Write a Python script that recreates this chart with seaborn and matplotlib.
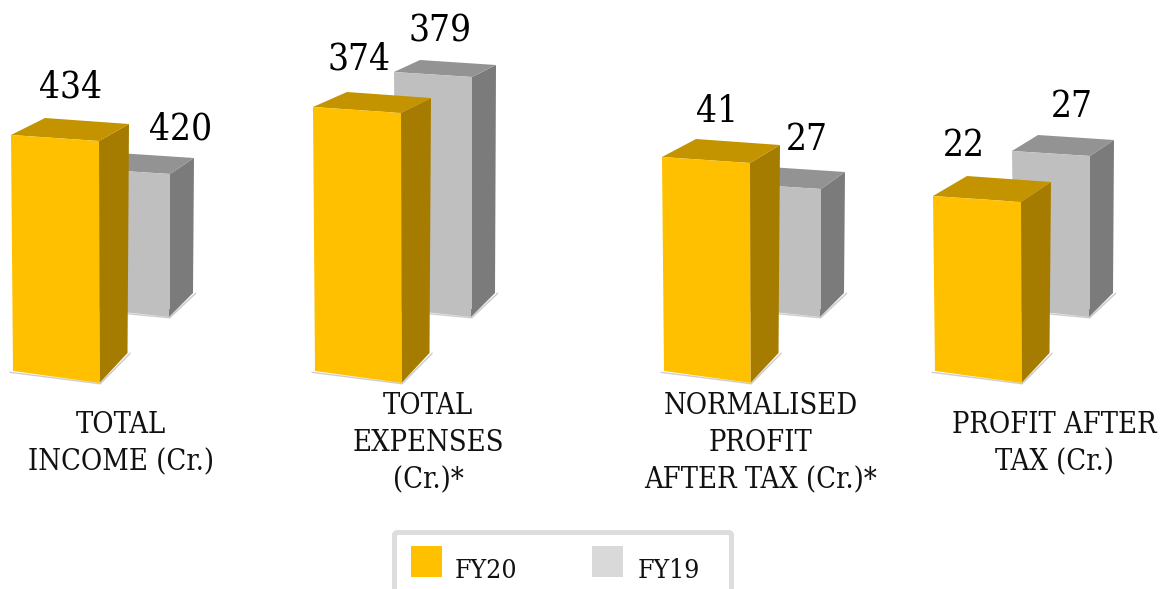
import matplotlib
matplotlib.use("Agg")
import matplotlib.pyplot as plt
from matplotlib.patches import Polygon, FancyBboxPatch, Rectangle
from matplotlib.transforms import Affine2D
import pandas as pd
import seaborn as sns

# ---- data ----
categories = ["TOTAL\nINCOME (Cr.)", "TOTAL\nEXPENSES\n(Cr.)*",
              "NORMALISED\nPROFIT\nAFTER TAX (Cr.)*", "PROFIT AFTER\nTAX (Cr.)"]
fy20 = [434, 374, 41, 22]
fy19 = [420, 379, 27, 27]
series_names = ["FY20", "FY19"]

# ---- layout (pixels, y measured from the top) ----
W, H = 1163, 589
fy20_left = [11, 313, 662, 933]
fy20_top = [135, 107, 157, 196]
fy20_rise = [17, 15, 18, 20]
fy19_left = [92, 394, 743, 1012]
fy19_top = [169, 72, 184, 151]
fy19_rise = [16, 12, 17, 16]
fy20_label = [(71, 84), (359, 56), (717, 108), (964, 142)]
fy19_label = [(181, 126), (440, 28), (807, 136), (1072, 103)]
cat_label_x = [121, 428, 761, 1054]
cat_label_y = [443.5, 443, 443, 443.5]

sns.set_theme(style="white")
plt.rcParams["font.family"] = ["DejaVu Serif", "Liberation Serif"]

fig = plt.figure(figsize=(W / 100, H / 100), dpi=100, facecolor="white")
pix = Affine2D().scale(1, -1).translate(0, H)


def fx(x):
    return x / W


def fy(y):
    return 1 - y / H


def draw_bar(label, value, left, top, rise, base, width, drop, style, z):
    """seaborn draws the front; the perspective faces follow its extents."""
    ax = fig.add_axes([fx(left + 2), fy(base), (width - 2) / W, (base - top - drop) / H], zorder=z)
    frame = pd.DataFrame({"category": [label], "value": [value]})
    sns.barplot(data=frame, x="category", y="value", color=style["front"],
                saturation=1, width=1, linewidth=0, edgecolor="none", ax=ax)
    ax.set_xlim(-0.5, 0.5)
    ax.set_ylim(0, value)
    ax.axis("off")
    box = ax.patches[0].get_window_extent()
    x0, x1, ytop, ybot = box.x0, box.x1, H - box.y1, H - box.y0

    tl = (x0 - 2, ytop - drop)
    tr = (x1, ytop)
    br = (x1 + style["br_dx"], ybot + style["br_dy"])
    bl = (x0, ybot)
    btl = (tl[0] + style["back_l"], tl[1] - rise)
    btr = (tr[0] + style["back_r"], tr[1] - rise)
    sbr = (br[0] + style["side"][0], br[1] + style["side"][1])

    def poly(points, color, order):
        ax.add_patch(Polygon(points, closed=True, facecolor=color, edgecolor="none",
                             transform=pix, clip_on=False, zorder=order))

    # soft floor shadow
    poly([(bl[0] - 4, bl[1] + 0.5), br, (sbr[0] + 3, sbr[1] - 1),
          (sbr[0] + 3, sbr[1] + 1), (br[0] + 1, br[1] + 1.5), (bl[0] - 3, bl[1] + 2)],
         "#cdcdcd", 1)
    poly([tr, btr, sbr, br], style["side_c"], 2)
    poly([tl, btl, btr, tr], style["top_c"], 2)
    poly([tl, tr, br, bl], style["front"], 3)
    ax.patches[0].set_zorder(4)


style20 = dict(front="#FFC000", top_c="#C49400", side_c="#A67C00", br_dx=0.5, br_dy=12,
               back_l=34, back_r=30, side=(28, -30))
style19 = dict(front="#BFBFBF", top_c="#939393", side_c="#7B7B7B", br_dx=-1, br_dy=8,
               back_l=26, back_r=24, side=(24, -24))

for i, cat in enumerate(categories):
    draw_bar(cat, fy19[i], fy19_left[i], fy19_top[i], fy19_rise[i], 309, 78, 5, style19, 1)
    draw_bar(cat, fy20[i], fy20_left[i], fy20_top[i], fy20_rise[i], 371, 88, 6, style20, 2)

for vals, pos in ((fy20, fy20_label), (fy19, fy19_label)):
    for v, (x, y) in zip(vals, pos):
        fig.text(fx(x), fy(y), str(v), ha="center", va="center_baseline", fontsize=26.5,
                 color="black", zorder=10, fontstretch="condensed")

for cat, x, y in zip(categories, cat_label_x, cat_label_y):
    fig.text(fx(x), fy(y), cat, ha="center", va="center", fontsize=20.8, color="#111111",
             linespacing=1.41, zorder=10, fontstretch="condensed")

# legend
fig.add_artist(FancyBboxPatch((394.5, 532.5), 337, 80, boxstyle="round,pad=0,rounding_size=3",
                              transform=pix, facecolor="white", edgecolor="#DDDDDD",
                              linewidth=3.6))
for name, color, sx, tx in zip(series_names, ["#FFC000", "#D9D9D9"], [411, 592], [455, 638]):
    fig.add_artist(Rectangle((sx, 546), 31, 31, transform=pix, facecolor=color, edgecolor="none"))
    fig.text(fx(tx), fy(578), name, ha="left", va="baseline", fontsize=19, color="#111111",
             fontstretch="condensed")

fig.savefig("out.png", dpi=100, facecolor="white")
